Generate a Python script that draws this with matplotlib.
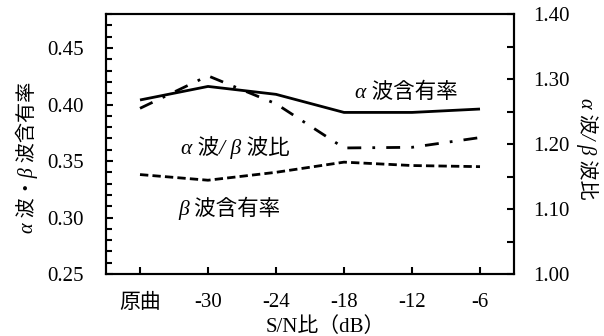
import numpy as np
import matplotlib.pyplot as plt
from matplotlib.ticker import MultipleLocator, FuncFormatter

plt.rcParams['font.family'] = ['Liberation Serif', 'Noto Sans CJK JP']
plt.rcParams['font.size'] = 15

# S/N conditions on the x axis
conditions = ['原曲', '-30', '-24', '-18', '-12', '-6']

# content rates (left axis)
alpha_rate = [0.404, 0.416, 0.409, 0.393, 0.393, 0.396]
beta_rate = [0.338, 0.333, 0.340, 0.349, 0.346, 0.345]

# alpha / beta ratio (right axis)
ab_ratio = [1.255, 1.305, 1.262, 1.194, 1.195, 1.210]

x = np.arange(len(conditions))

fig = plt.figure(figsize=(6.04, 3.36), dpi=100)
ax = fig.add_axes([0.1755, 0.1845, 0.6755, 0.7735])
ax2 = ax.twinx()

ax.plot(x, alpha_rate, color='black', lw=2.0, solid_capstyle='butt')
ax.plot(x, beta_rate, color='black', lw=2.0, linestyle=(0, (3, 1.5)))
ax2.plot(x, ab_ratio, color='black', lw=2.0, linestyle=(0, (5, 4, 1, 4)))

ax.set_xlim(-0.5, 5.5)
ax.set_ylim(0.25, 0.48)
ax2.set_ylim(1.00, 1.40)

ax.set_xticks(x)
ax.set_xticklabels(conditions)
ax.yaxis.set_major_locator(MultipleLocator(0.05))
ax.yaxis.set_minor_locator(MultipleLocator(0.01))
ax.yaxis.set_major_formatter(FuncFormatter(lambda v, p: f'{v:.2f}'))

ax2.yaxis.set_major_locator(MultipleLocator(0.1))
ax2.yaxis.set_minor_locator(MultipleLocator(0.05))
ax2.yaxis.set_major_formatter(FuncFormatter(lambda v, p: f'{v:.2f}'))

ax.tick_params(axis='x', direction='in', length=5, width=1.5, pad=14)
ax.tick_params(axis='y', which='major', direction='in', length=5, width=1.5, pad=16)
ax.tick_params(axis='y', which='minor', direction='in', length=4, width=1.5)
ax2.tick_params(axis='y', which='both', direction='in', length=5, width=1.5, pad=14)

for a in (ax, ax2):
    for s in a.spines.values():
        s.set_linewidth(1.5)

ax.set_xlabel('S/N比（dB）', va='center')
ax.xaxis.set_label_coords(0.537, -0.204)
ax.set_ylabel('α 波・β 波含有率', fontsize=14.5, style='italic', va='center')
ax.yaxis.set_label_coords(-0.194, 0.45)
ax2.set_ylabel('α 波/ β 波比', fontsize=14.5, style='italic', rotation=270, va='center')
ax2.yaxis.set_label_coords(1.18, 0.48)

# series labels inside the plot
ax.text(3.91, 0.410, 'α 波含有率', ha='center', va='center', fontsize=15.5, style='italic')
ax.text(1.40, 0.3615, 'α 波/ β 波比', ha='center', va='center', fontsize=15.5, style='italic')
ax.text(1.32, 0.308, 'β 波含有率', ha='center', va='center', fontsize=15.5, style='italic')

fig.savefig('out.png', dpi=100)
